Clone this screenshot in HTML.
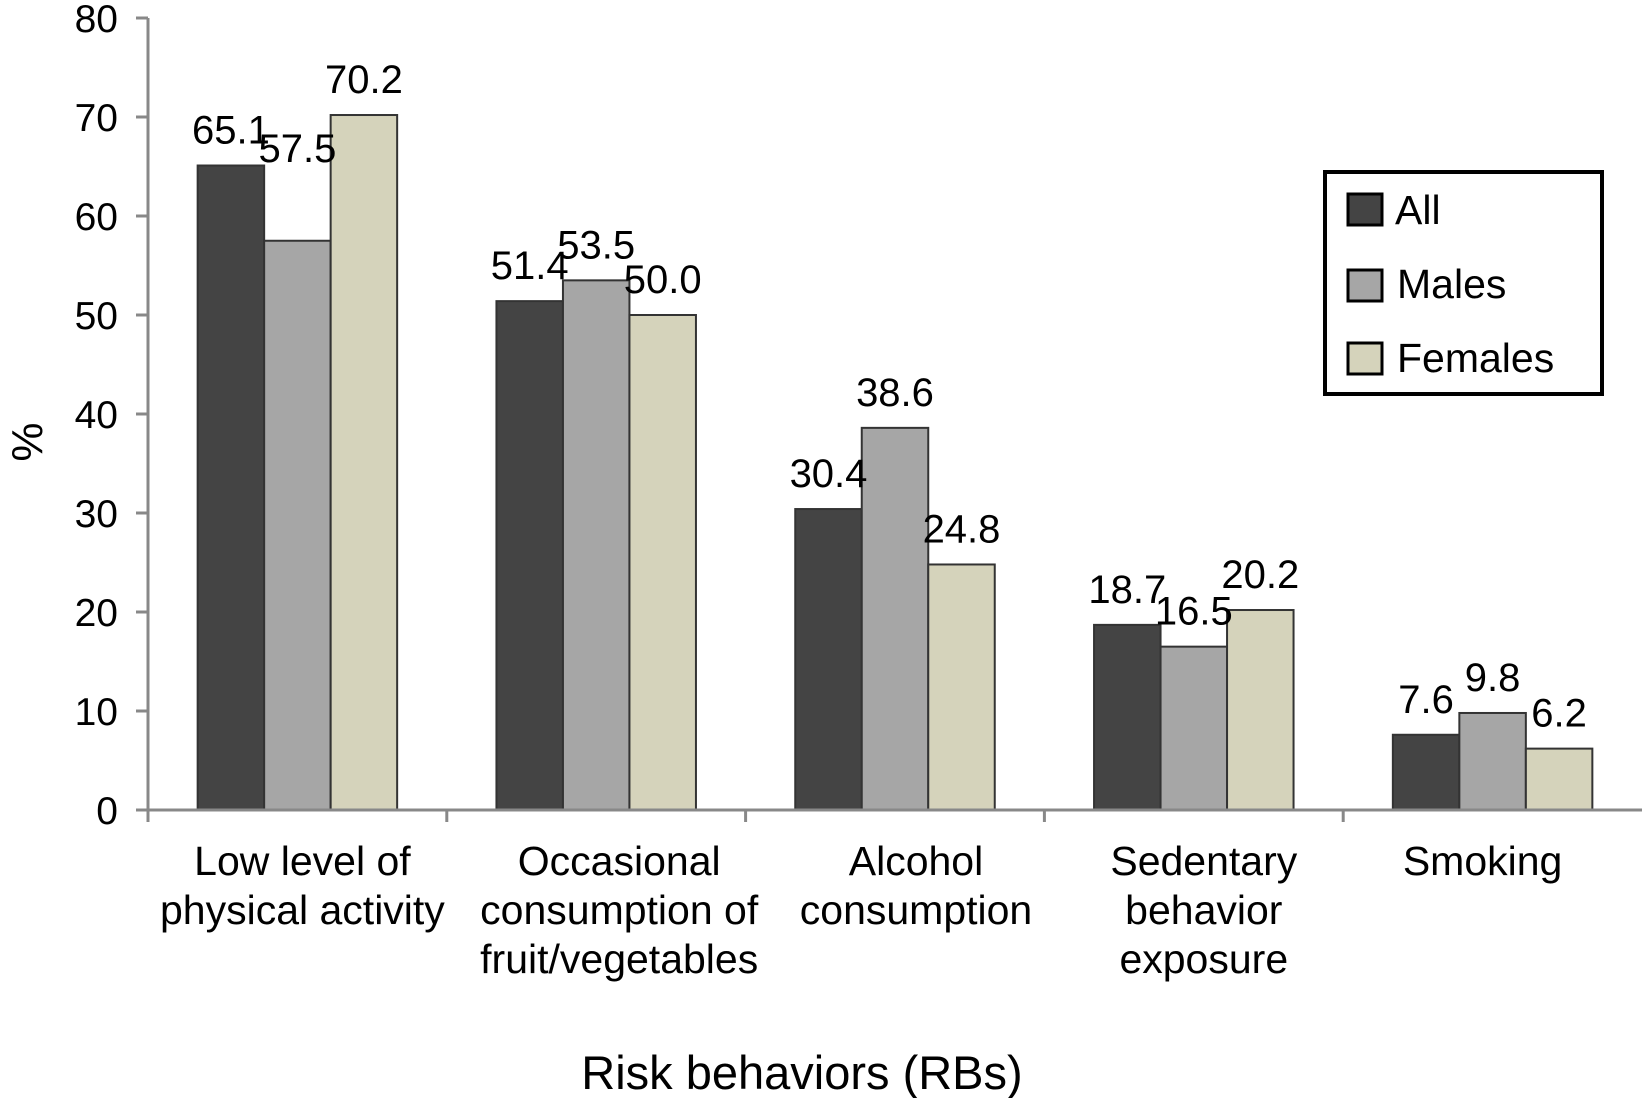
<!DOCTYPE html>
<html><head><meta charset="utf-8">
<style>
html,body{margin:0;padding:0;background:#fff;}
svg{display:block;font-family:"Liberation Sans",Arial,sans-serif;}
</style></head>
<body>
<svg id="chart" width="1642" height="1098" viewBox="0 0 1642 1098" xmlns="http://www.w3.org/2000/svg">
  <rect x="0" y="0" width="1642" height="1098" fill="#fff"/>
  <g id="yaxis"></g>
  <g id="bars"></g>
  <g id="labels"></g>
  <g id="xaxis"></g>
  <text x="0" y="0" transform="translate(42,442) rotate(-90)" text-anchor="middle" font-size="44" fill="#000">%</text>
  <text x="802" y="1089" text-anchor="middle" font-size="47" fill="#000">Risk behaviors (RBs)</text>
  <g>
    <rect x="1325" y="172" width="277" height="222" fill="#fff" stroke="#000" stroke-width="4"/>
    <g>
      <rect x="1348" y="194" width="34" height="31" fill="#444" stroke="#000" stroke-width="3"/>
      <text x="1395" y="224" font-size="41">All</text>
    </g>
    <g>
      <rect x="1348" y="270" width="34" height="31" fill="#a6a6a6" stroke="#000" stroke-width="3"/>
      <text x="1397" y="298" font-size="41">Males</text>
    </g>
    <g>
      <rect x="1348" y="343" width="34" height="31" fill="#d5d3bb" stroke="#000" stroke-width="3"/>
      <text x="1397" y="372" font-size="41">Females</text>
    </g>
  </g>
</svg>
<script>
const categories = [
  ["Low level of","physical activity"],
  ["Occasional","consumption of","fruit/vegetables"],
  ["Alcohol","consumption"],
  ["Sedentary","behavior","exposure"],
  ["Smoking"]
];
const seriesNames = ["All","Males","Females"];
const allValues = [65.1, 51.4, 30.4, 18.7, 7.6];
const maleValues = [57.5, 53.5, 38.6, 16.5, 9.8];
const femaleValues = [70.2, 50.0, 24.8, 20.2, 6.2];
const valueLabels = [
  ["65.1","51.4","30.4","18.7","7.6"],
  ["57.5","53.5","38.6","16.5","9.8"],
  ["70.2","50.0","24.8","20.2","6.2"]
];
const yTicks = [0,10,20,30,40,50,60,70,80];
const labelLift = [[0,0,0,0,0],[57,0,0,0,0],[0,0,0,0,0]];
const catLabelDx = [5, 23, 21, 10, -10];

const NS = "http://www.w3.org/2000/svg";
const X0 = 148, X1 = 1642, Y0 = 810, Y80 = 18;
const yMax = 80;
const groupW = (X1 - X0) / categories.length;
const barW = 66.5;
const colors = ["#444444","#a6a6a6","#d5d3bb"];
const series = [allValues, maleValues, femaleValues];
function yScale(v){ return Y0 - (v / yMax) * (Y0 - Y80); }
function xCenter(i){ return X0 + groupW * (i + 0.5); }
function barX(i, s){ return xCenter(i) + (s - 1.5) * barW; }
function mk(tag, attrs, parent){
  const e = document.createElementNS(NS, tag);
  for (const k in attrs) e.setAttribute(k, attrs[k]);
  parent.appendChild(e);
  return e;
}
const yAxis = document.getElementById('yaxis');
const bars = document.getElementById('bars');
const labels = document.getElementById('labels');
const xAxis = document.getElementById('xaxis');

yTicks.forEach(t => {
  const y = yScale(t);
  const tk = mk('line', {x1:136, x2:X0, y1:y, y2:y, stroke:'#888', 'stroke-width':3}, yAxis);
  
  
  const tl = mk('text', {x:118, y:y + 14, 'text-anchor':'end', 'font-size':39, fill:'#000'}, yAxis);
  tl.textContent = t;
  
  
});
const yl = mk('line', {x1:X0, x2:X0, y1:Y80, y2:Y0 + 12, stroke:'#888', 'stroke-width':3}, yAxis);



series.forEach((vals, s) => {
  vals.forEach((v, i) => {
    const x = barX(i, s), y = yScale(v);
    const r = mk('rect', {x:x, y:y, width:barW, height:Y0 - y, fill:colors[s], stroke:'#333', 'stroke-width':2}, bars);
    
    
    const t = mk('text', {x:x + barW / 2, y:y - 22 - labelLift[s][i], 'text-anchor':'middle', 'font-size':40, fill:'#000'}, labels);
    t.textContent = valueLabels[s][i];
    
    
  });
});

const xl = mk('line', {x1:X0 - 12, x2:X1, y1:Y0, y2:Y0, stroke:'#888', 'stroke-width':3}, xAxis);


for (let i = 1; i < categories.length; i++) {
  const x = X0 + groupW * i;
  const tk = mk('line', {x1:x, x2:x, y1:Y0, y2:Y0 + 12, stroke:'#888', 'stroke-width':3}, xAxis);
  
  
}
categories.forEach((lines, i) => {
  lines.forEach((ln, j) => {
    const t = mk('text', {x:xCenter(i) + catLabelDx[i], y:875 + j * 49, 'text-anchor':'middle', 'font-size':41, fill:'#000'}, xAxis);
    t.textContent = ln;
    
    
  });
});
</script>
</body></html>
